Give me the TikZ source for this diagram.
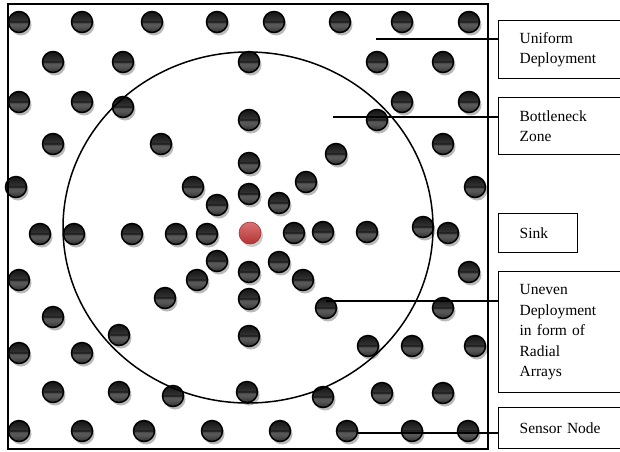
\documentclass[tikz,border=0pt]{standalone}
\usepackage{fontspec}
\setmainfont{Liberation Serif}
\usetikzlibrary{shadows}
\colorlet{bTop}{black!92}
\colorlet{bUp}{black!80}
\colorlet{bLine}{black!97}
\colorlet{bLow}{black!66}
\colorlet{bBot}{black!82}
\definecolor{sinktop}{RGB}{220,115,115}
\definecolor{sinkbot}{RGB}{178,52,52}
\definecolor{sinkline}{RGB}{160,50,50}
\pgfdeclareverticalshading{sensorball}{100bp}{color(0bp)=(bBot); color(25bp)=(bBot); color(40bp)=(bLow); color(48.5bp)=(bLow); color(49.5bp)=(bLine); color(51bp)=(bLine); color(52bp)=(bUp); color(75bp)=(bTop); color(100bp)=(bTop)}
\tikzset{
  sensor/.style={circle, minimum size=21pt, inner sep=0pt, draw=black, line width=1.5pt,
    shading=sensorball,
    drop shadow={shadow xshift=2pt, shadow yshift=-3pt, fill=black!45, opacity=0.6, draw=none}},
  sinknode/.style={circle, minimum size=22pt, inner sep=0pt, draw=sinkline, line width=0.6pt,
    top color=sinktop, bottom color=sinkbot,
    drop shadow={shadow xshift=2pt, shadow yshift=-3pt, fill=black!40, opacity=0.5, draw=none}},
  label box/.style={draw=black, line width=1.3pt, anchor=north west, align=left,
    inner xsep=21pt, inner ysep=0pt, font=\fontsize{15.5}{20.5}\selectfont},
  leader/.style={draw=black, line width=1.2pt}
}
\begin{document}
\begin{tikzpicture}[x=1pt, y=-1pt]
\useasboundingbox (0,0) rectangle (620,451);
\fill[white] (0,0) rectangle (620,451);
% sensor nodes
\foreach \px/\py [count=\i] in {
  19/22, 82/22, 152/22, 217/22, 274/22, 340/22, 402/22, 469/22,
  53/62, 123/62, 249/62, 377/62, 443/62,
  19/102, 82/102, 402/102, 469/102, 123/107,
  249/120, 377/120,
  53/144, 161/144, 443/144, 336/154, 249/163, 306/182,
  16/187, 193/187, 475/187, 249/194, 217/205, 279/203,
  40/234, 74/234, 132/234, 176/234, 207/234,
  294/233, 323/232, 367/232, 423/227, 448/233,
  217/261, 279/262, 249/272, 469/272,
  19/280, 197/280, 303/280,
  165/298, 249/299, 443/308,
  53/317, 119/335, 249/336,
  368/346, 412/346, 475/346,
  19/353, 82/353,
  53/392, 119/392, 173/396, 247/392, 323/397, 382/393, 443/393,
  19/431, 82/431, 144/431, 212/431, 280/431, 412/431, 468/431}
  \node[sensor] (s\i) at (\px,\py) {};
\node[sensor] (uneven) at (326,308) {};
\node[sensor] (sensorex) at (347,431) {};
\node[sinknode] (sink) at (250,233) {};
% field border and bottleneck zone
\draw[line width=2pt] (8,4) rectangle (488,449);
\draw[line width=1.5pt] (248,227.5) ellipse [x radius=185, y radius=175.5];
% label boxes
\node[label box, minimum width=127pt, minimum height=58pt, text width=85pt] (ubox) at (498,20) {Uniform\\Deployment};
\node[label box, minimum width=127pt, minimum height=57pt, text width=85pt] (bbox) at (498,97) {Bottleneck\\Zone};
\node[label box, minimum width=79pt, minimum height=39pt, text width=37pt] (sbox) at (498,213) {Sink};
\node[label box, minimum width=127pt, minimum height=121pt, text width=85pt] (rbox) at (498,271) {Uneven\\Deployment\\in form of\\Radial\\Arrays};
\node[label box, minimum width=127pt, minimum height=41pt, text width=85pt] (nbox) at (498,407) {Sensor Node};
% leaders
\coordinate (ua) at (376,39);
\coordinate (ba) at (333,117);
\coordinate (ra) at ([yshift=7pt]uneven.center);
\coordinate (na) at ([yshift=-2pt]sensorex.east);
\draw[leader] (ua) -- (ua -| ubox.west);
\draw[leader] (ba) -- (ba -| bbox.west);
\draw[leader] (ra) -- (ra -| rbox.west);
\draw[leader] (na) -- (na -| nbox.west);
\end{tikzpicture}
\end{document}
